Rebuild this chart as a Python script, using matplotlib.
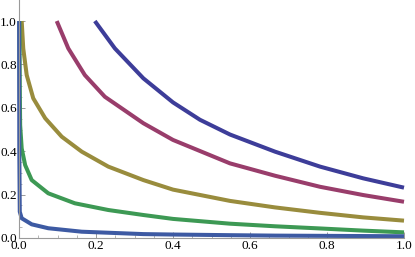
import matplotlib.pyplot as plt
import numpy as np

# curve values (x, y)
top_x = [0.197, 0.249, 0.323, 0.40, 0.47, 0.548, 0.665, 0.782, 0.894, 1.0]
top_y = [1.0, 0.874, 0.736, 0.625, 0.545, 0.477, 0.398, 0.329, 0.275, 0.232]

purple_x = [0.098, 0.128, 0.171, 0.223, 0.323, 0.40, 0.548, 0.665, 0.782, 0.894, 1.0]
purple_y = [1.0, 0.874, 0.751, 0.651, 0.529, 0.452, 0.344, 0.287, 0.236, 0.198, 0.167]

olive_x = [0.007, 0.011, 0.020, 0.037, 0.068, 0.111, 0.163, 0.232, 0.323,
           0.40, 0.548, 0.665, 0.782, 0.894, 1.0]
olive_y = [1.0, 0.874, 0.751, 0.644, 0.552, 0.467, 0.398, 0.329, 0.267,
           0.223, 0.171, 0.141, 0.116, 0.095, 0.080]

green_x = [0.001, 0.002, 0.003, 0.007, 0.016, 0.033, 0.076, 0.145, 0.232,
           0.323, 0.40, 0.548, 0.665, 0.782, 0.894, 1.0]
green_y = [1.0, 0.7, 0.52, 0.413, 0.336, 0.267, 0.206, 0.160, 0.129,
           0.106, 0.088, 0.066, 0.054, 0.044, 0.034, 0.026]

low_x = [0.0003, 0.0008, 0.002, 0.007, 0.033, 0.076, 0.163, 0.323,
         0.40, 0.548, 0.665, 0.782, 0.894, 1.0]
low_y = [1.0, 0.4, 0.121, 0.091, 0.063, 0.045, 0.029, 0.018,
         0.016, 0.013, 0.011, 0.010, 0.009, 0.008]

curves = [(top_x, top_y, '#3d3d99'),
          (purple_x, purple_y, '#993d6b'),
          (olive_x, olive_y, '#998c3d'),
          (green_x, green_y, '#3d9954'),
          (low_x, low_y, '#3d5aa3')]

plt.rcParams['font.family'] = ['Liberation Serif', 'DejaVu Serif']

fig = plt.figure(figsize=(4.15, 2.57), dpi=100)
ax = fig.add_axes([19 / 415, 19 / 257, 385 / 415, 238 / 257])

for x, y, c in curves:
    ax.plot(x, y, color=c, lw=2.9, solid_capstyle='butt',
            solid_joinstyle='round', clip_on=False)

ax.set_xlim(0, 1.0)
ax.set_ylim(0, 1.097)
for s in ['top', 'right']:
    ax.spines[s].set_visible(False)
for s in ['left', 'bottom']:
    ax.spines[s].set_color('#9a9a9a')
    ax.spines[s].set_linewidth(0.8)
ax.spines['bottom'].set_bounds(0, 1.0)

ticks = np.arange(0, 1.01, 0.2)
ax.set_xticks(ticks)
ax.set_yticks(ticks)
ax.set_xticks(np.arange(0, 1.01, 0.05), minor=True)
ax.set_yticks(np.arange(0, 1.01, 0.05), minor=True)
ax.set_xticklabels(['%.1f' % t for t in ticks], family='Liberation Serif')
ax.set_yticklabels(['%.1f' % t for t in ticks], family='Liberation Serif')
ax.tick_params(which='major', direction='in', length=4, width=0.7,
               color='#9a9a9a', labelsize=9.5, pad=1.5)
ax.tick_params(which='minor', direction='in', length=2.2, width=0.5,
               color='#9a9a9a')

fig.savefig('out.png', dpi=100)
